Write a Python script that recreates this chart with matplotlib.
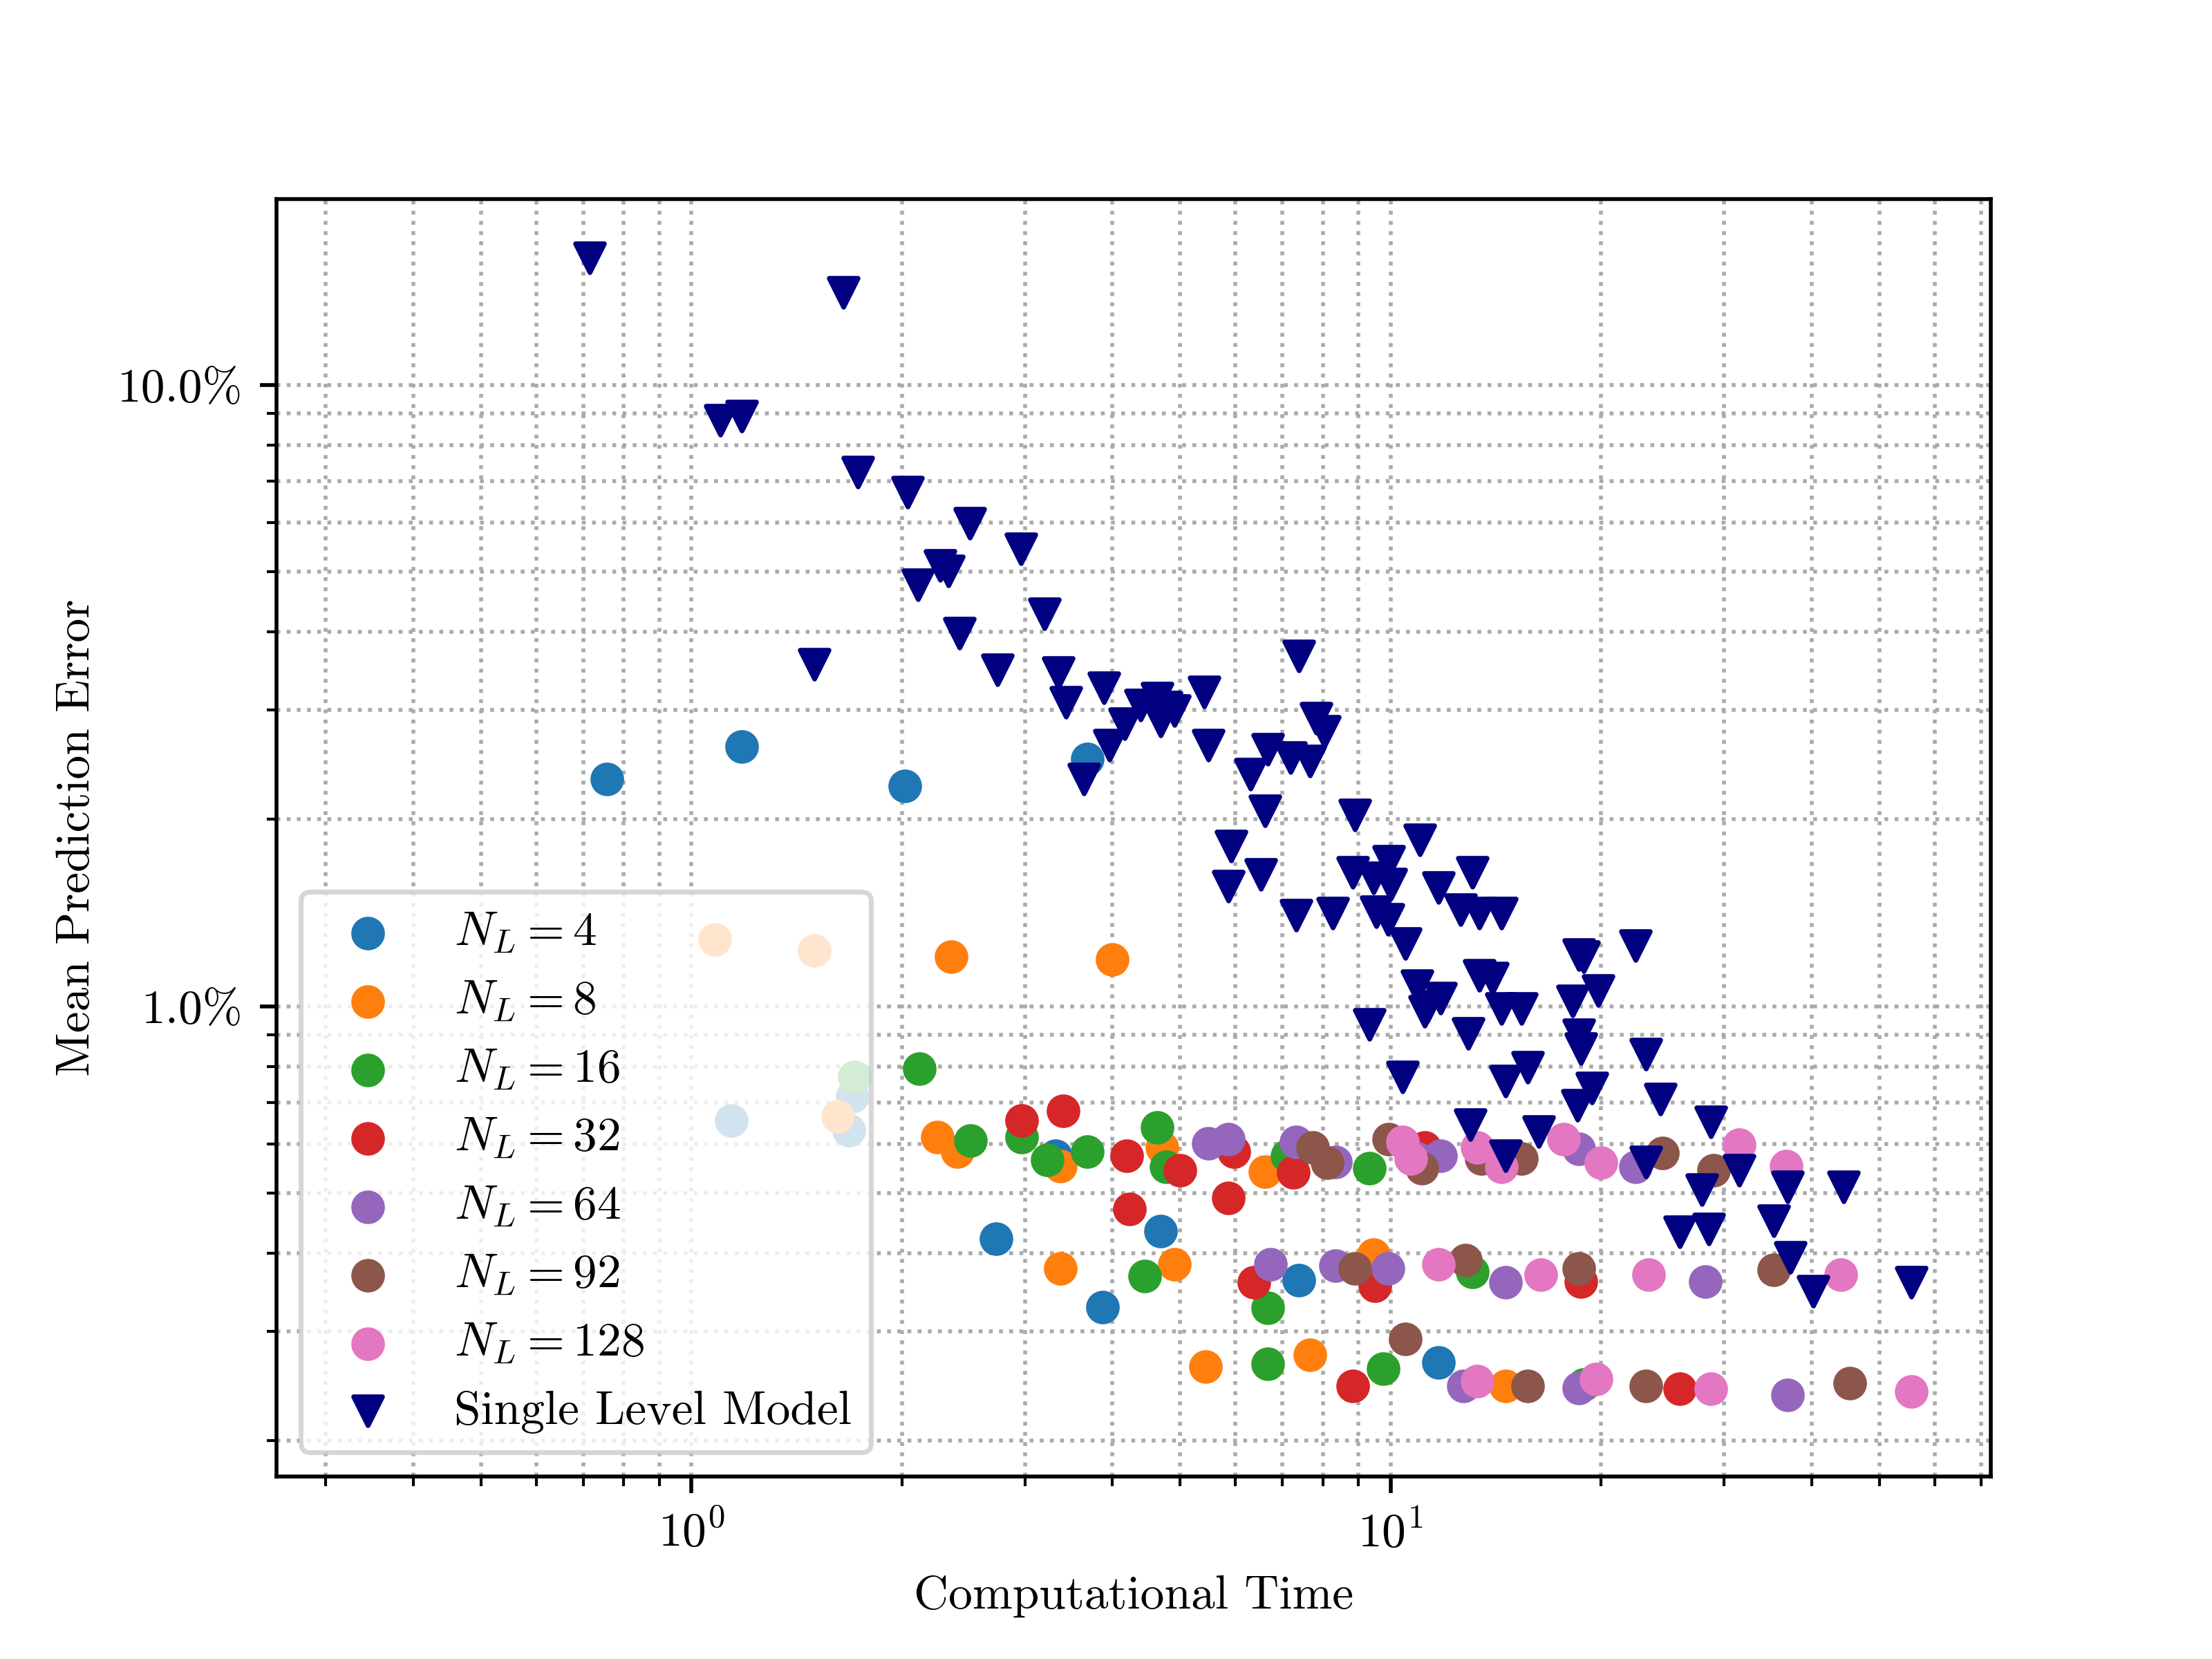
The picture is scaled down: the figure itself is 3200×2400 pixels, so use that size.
import numpy as np
import matplotlib
matplotlib.use("Agg")
import matplotlib.pyplot as plt
from matplotlib.ticker import FuncFormatter

plt.rcParams["font.family"] = "serif"
plt.rcParams["font.serif"] = ["cmr10"]
plt.rcParams["mathtext.fontset"] = "cm"
plt.rcParams["axes.unicode_minus"] = False
plt.rcParams["axes.formatter.use_mathtext"] = True

# multi-level models: (time, mean error in %)
nl4_t = [0.757, 1.18, 2.02, 3.68, 1.14, 1.68, 1.70, 2.73, 3.32, 3.87, 4.69, 7.39, 11.7]
nl4_e = [2.32, 2.62, 2.26, 2.50, 0.655, 0.631, 0.716, 0.422, 0.574, 0.328, 0.435, 0.362, 0.267]

nl8_t = [1.08, 1.50, 2.35, 4.00, 1.62, 2.25, 2.40, 3.37, 3.37, 4.71, 4.91, 5.44, 6.61, 7.67, 9.46, 14.6]
nl8_e = [1.28, 1.23, 1.20, 1.19, 0.665, 0.615, 0.583, 0.553, 0.378, 0.593, 0.384, 0.263, 0.542, 0.275, 0.398, 0.245]

nl16_t = [1.71, 2.12, 2.51, 2.97, 3.23, 3.68, 4.64, 4.77, 4.45, 6.67, 6.67, 7.12, 9.33, 9.77, 13.1, 18.9]
nl16_e = [0.770, 0.794, 0.608, 0.615, 0.565, 0.583, 0.638, 0.551, 0.368, 0.327, 0.266, 0.574, 0.548, 0.261, 0.374, 0.246]

nl32_t = [2.97, 3.40, 4.19, 4.23, 5.00, 5.86, 5.97, 6.37, 7.26, 8.82, 9.50, 11.2, 18.7, 25.9]
nl32_e = [0.655, 0.679, 0.574, 0.471, 0.545, 0.491, 0.583, 0.359, 0.540, 0.245, 0.355, 0.593, 0.360, 0.242]

nl64_t = [5.49, 5.86, 6.73, 7.32, 8.34, 8.34, 9.91, 10.9, 11.8, 12.7, 14.6, 18.6, 18.6, 22.4, 28.2, 37.0]
nl64_e = [0.602, 0.611, 0.384, 0.605, 0.562, 0.382, 0.378, 0.568, 0.574, 0.245, 0.359, 0.243, 0.590, 0.551, 0.360, 0.237]

nl92_t = [7.74, 8.11, 8.90, 9.95, 10.5, 11.1, 12.8, 13.5, 15.4, 15.7, 18.6, 23.2, 24.5, 29.0, 35.3, 45.4]
nl92_e = [0.593, 0.560, 0.378, 0.611, 0.291, 0.548, 0.390, 0.568, 0.568, 0.245, 0.378, 0.245, 0.580, 0.545, 0.376, 0.247]

nl128_t = [10.4, 10.7, 11.7, 13.3, 14.4, 13.3, 16.4, 17.7, 20.0, 19.7, 23.4, 28.7, 31.5, 36.8, 44.1, 55.6]
nl128_e = [0.605, 0.568, 0.384, 0.593, 0.551, 0.249, 0.370, 0.611, 0.560, 0.251, 0.370, 0.242, 0.599, 0.553, 0.370, 0.240]

# single level model
sl_t = [0.716, 1.65, 1.10, 1.18, 1.73, 2.04, 2.50, 2.96, 2.11, 2.27, 2.33, 3.20, 2.42, 1.50,
        2.74, 3.35, 3.43, 3.89, 3.96, 4.17, 4.39, 4.64, 4.69, 4.77, 4.91, 5.41, 5.49, 3.64,
        6.31, 6.67, 6.61, 7.39, 7.19, 7.67, 7.82, 8.04, 5.91, 5.86, 6.52, 7.32, 8.26, 8.90,
        8.82, 9.46, 9.95, 10.0, 9.55, 9.91, 10.5, 11.0, 11.7, 13.1, 12.6, 13.4, 14.4, 10.9,
        11.2, 11.8, 11.3, 12.9, 13.4, 14.0, 14.4, 15.4, 9.33, 10.4, 14.6, 15.7, 18.6, 18.9,
        18.2, 19.8, 22.4, 18.6, 18.7, 19.4, 18.5, 16.3, 23.2, 24.3, 28.7, 13.0, 14.6, 23.2,
        31.5, 27.9, 25.9, 28.5, 35.3, 37.0, 44.5, 37.3, 40.2, 55.6]
sl_e = [16.0, 14.1, 8.77, 8.91, 7.23, 6.72, 5.99, 5.45, 4.76, 5.12, 5.01, 4.28, 3.98, 3.55,
        3.48, 3.44, 3.08, 3.25, 2.63, 2.85, 3.05, 3.13, 2.88, 3.03, 2.99, 3.20, 2.63, 2.32,
        2.36, 2.59, 2.06, 3.66, 2.51, 2.48, 2.91, 2.77, 1.81, 1.56, 1.63, 1.40, 1.41, 2.03,
        1.64, 1.61, 1.71, 1.57, 1.42, 1.38, 1.26, 1.85, 1.55, 1.64, 1.43, 1.41, 1.41, 1.08,
        0.98, 1.03, 1.00, 0.905, 1.12, 1.11, 0.99, 0.99, 0.934, 0.77, 0.758, 0.798, 1.21, 1.20,
        1.02, 1.06, 1.25, 0.90, 0.855, 0.738, 0.693, 0.628, 0.837, 0.708, 0.651, 0.644, 0.574, 0.562,
        0.545, 0.507, 0.433, 0.438, 0.452, 0.512, 0.512, 0.394, 0.348, 0.359]

levels = [4, 8, 16, 32, 64, 92, 128]
times = [nl4_t, nl8_t, nl16_t, nl32_t, nl64_t, nl92_t, nl128_t]
errors = [nl4_e, nl8_e, nl16_e, nl32_e, nl64_e, nl92_e, nl128_e]

fig, ax = plt.subplots(figsize=(6.4, 4.8))
for n, t, e in zip(levels, times, errors):
    ax.scatter(t, e, label=f"$N_L = {n}$", zorder=3)
ax.scatter(sl_t, sl_e, marker="v", color="navy", label="Single Level Model", zorder=3)

ax.set_xscale("log")
ax.set_yscale("log")
ax.set_xlim(0.255, 72.2)
ax.set_ylim(0.175, 19.9)
ax.yaxis.set_major_formatter(FuncFormatter(lambda v, p: f"{v:.1f}%"))
ax.yaxis.set_minor_formatter(FuncFormatter(lambda v, p: ""))
ax.grid(True, which="both", linestyle=":", color="#aaaaaa", linewidth=0.8)
ax.set_axisbelow(True)
ax.set_xlabel("Computational Time")
ax.set_ylabel("Mean Prediction Error")
ax.legend(loc="lower left")

fig.savefig("out.png", dpi=500)
